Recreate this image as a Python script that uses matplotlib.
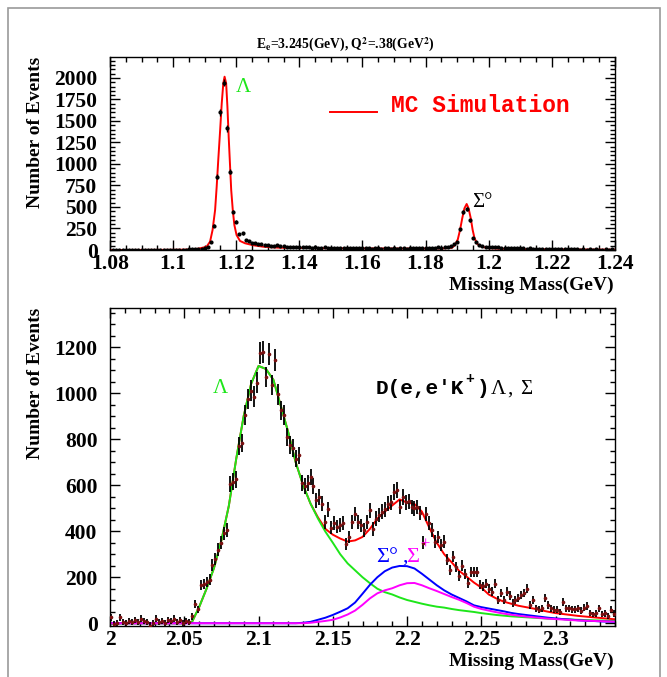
import numpy as np
import matplotlib
matplotlib.use('Agg')
import matplotlib.pyplot as plt
from matplotlib.ticker import MultipleLocator
from matplotlib.patches import Rectangle

plt.rcParams['mathtext.fontset'] = 'stix'

W, H = 667, 677

# ---------------- top panel data (Lambda / Sigma0 from hydrogen) ----------------
top_bin_start = 1.081
top_bin_width = 0.001
top_counts = [0, 5, 0, 3, 0, 0, 5, 0, 0, 2,
              0, 5, 0, 0, 3, 0, 0, 5, 0, 0,
              3, 0, 5, 5, 8, 10, 12, 10, 15, 25,
              40, 97, 283, 852, 1601, 1946, 1415, 911, 446, 329,
              186, 194, 120, 105, 87, 80, 72, 65, 60, 58,
              52, 50, 60, 45, 42, 40, 38, 40, 35, 33,
              35, 30, 32, 28, 30, 28, 25, 30, 25, 28,
              22, 25, 20, 22, 25, 20, 22, 18, 20, 22,
              18, 20, 15, 18, 20, 15, 18, 20, 15, 18,
              16, 20, 18, 15, 20, 22, 18, 20, 25, 22,
              25, 28, 25, 30, 28, 32, 40, 50, 70, 97,
              240, 440, 480, 345, 135, 88, 60, 45, 40, 38,
              35, 30, 32, 28, 25, 22, 25, 20, 22, 18,
              20, 15, 18, 15, 12, 15, 12, 10, 12, 10,
              12, 8, 10, 8, 10, 8, 6, 8, 5, 8,
              5, 6, 5, 8, 4, 5, 8, 5, 6]

top_mc_mass = [1.080, 1.100, 1.105, 1.108, 1.1106, 1.1117, 1.1125, 1.1133, 1.1138,
               1.1143, 1.1149, 1.1154, 1.1159, 1.1163, 1.1168, 1.1172, 1.1176, 1.1180,
               1.1184, 1.1189, 1.1194, 1.1201, 1.1212, 1.1228, 1.1254, 1.1286, 1.1333,
               1.140, 1.150, 1.160, 1.170, 1.180, 1.185, 1.1883, 1.1893, 1.1902, 1.1909,
               1.1916, 1.1923, 1.1930, 1.1936, 1.1943, 1.1949, 1.1955, 1.1964, 1.1978,
               1.1999, 1.203, 1.210, 1.220, 1.230, 1.240]
top_mc_vals = [0, 2, 5, 15, 38, 97, 233, 465, 736,
               1047, 1395, 1705, 1938, 2015, 1938, 1667, 1318, 1008,
               698, 465, 291, 174, 105, 78, 55, 38, 27,
               24, 20, 18, 17, 17, 18, 25, 58, 124, 233,
               369, 485, 535, 485, 369, 233, 136, 70, 38,
               22, 15, 10, 7, 5, 4]

# ---------------- bottom panel data (deuterium) ----------------
bot_bin_start = 2.001
bot_bin_width = 0.002
bot_counts = [25, -5, 0, 25, 5, 0, 10, 5, 15, 5,
              20, 10, 5, -10, 0, 20, 5, 10, 0, 15,
              10, 20, 5, 15, 0, 10, 5, 30, 85, 60,
              165, 170, 180, 190, 255, 280, 320, 350, 390, 405,
              605, 615, 625, 770, 785, 905, 975, 1010, 985, 1045,
              1175, 1178, 1070, 1170, 1035, 1145, 995, 925, 905, 810,
              775, 760, 715, 730, 610, 595, 610, 635, 595, 535,
              550, 520, 440, 495, 415, 435, 420, 428, 435, 345,
              375, 440, 475, 440, 425, 405, 440, 490, 410, 455,
              470, 485, 495, 520, 525, 570, 580, 505, 550, 525,
              530, 505, 500, 505, 480, 350, 475, 435, 405, 355,
              375, 340, 355, 275, 230, 290, 245, 205, 250, 215,
              175, 222, 222, 224, 167, 160, 172, 150, 137, 172,
              100, 130, 102, 137, 120, 88, 102, 110, 123, 130,
              150, 80, 100, 65, 58, 65, 108, 80, 65, 58,
              58, 50, 93, 65, 65, 60, 60, 65, 55, 68,
              75, 45, 38, 43, 65, 40, 43, 32, 58, 42]
bot_errors = [14, 14, 14, 14, 14, 14, 14, 14, 14, 14,
              14, 14, 14, 14, 14, 14, 14, 14, 14, 14,
              14, 14, 14, 14, 14, 14, 14, 15, 18, 17,
              22, 22, 23, 23, 26, 27, 28, 29, 30, 30,
              36, 36, 36, 39, 39, 42, 44, 45, 44, 45,
              48, 48, 45, 48, 45, 48, 45, 43, 42, 40,
              39, 39, 38, 38, 35, 35, 35, 36, 35, 33,
              34, 33, 30, 32, 29, 30, 30, 30, 30, 27,
              28, 30, 31, 30, 30, 29, 30, 32, 29, 31,
              31, 32, 32, 33, 33, 35, 35, 32, 34, 33,
              33, 32, 32, 32, 31, 27, 31, 30, 29, 27,
              28, 26, 27, 24, 22, 25, 23, 22, 23, 22,
              20, 22, 22, 22, 20, 20, 20, 19, 19, 20,
              17, 18, 17, 19, 18, 16, 17, 17, 18, 18,
              19, 16, 17, 15, 15, 15, 17, 16, 15, 15,
              15, 14, 16, 15, 15, 15, 15, 15, 14, 15,
              16, 14, 13, 14, 15, 13, 14, 13, 15, 14]

curve_start = 2.000
curve_step = 0.005
lambda_mc = [0, 0, 0, 0, 0, 0, 0, 0, 0, 0,
             0, 3, 70, 150, 240, 360, 510, 715, 900, 1040,
             1118, 1105, 1058, 945, 830, 700, 600, 520, 455, 398,
             350, 300, 260, 230, 200, 174, 150, 135, 125, 112,
             101, 93, 85, 78, 72, 68, 62, 57, 53, 49,
             44, 40, 36, 33, 30, 28, 26, 24, 22, 20,
             19, 18, 16, 15, 14, 13, 12, 11, 10]
sigma0_mc = [0, 0, 0, 0, 0, 0, 0, 0, 0, 0,
             0, 0, 0, 0, 0, 0, 0, 0, 0, 0,
             0, 0, 0, 0, 0, 0, 2, 6, 15, 24,
             36, 50, 65, 90, 128, 167, 200, 226, 242, 249,
             248, 238, 215, 190, 165, 143, 125, 110, 95, 78,
             70, 64, 58, 52, 45, 40, 36, 32, 28, 24,
             21, 18, 16, 13, 11, 10, 8, 7, 6]
sigmam_mc = [0, 0, 0, 0, 0, 0, 0, 0, 0, 0,
             0, 0, 0, 0, 0, 0, 0, 0, 0, 0,
             0, 0, 0, 0, 0, 0, 0, 2, 6, 10,
             15, 25, 38, 55, 80, 108, 130, 143, 152, 165,
             174, 175, 165, 152, 140, 127, 114, 102, 88, 72,
             62, 55, 48, 42, 37, 33, 29, 26, 23, 20,
             18, 16, 14, 12, 11, 10, 9, 8, 7]
total_mc = [0, 0, 0, 0, 0, 0, 0, 0, 0, 0,
            0, 3, 70, 150, 240, 360, 510, 715, 900, 1040,
            1118, 1105, 1058, 945, 830, 700, 600, 520, 460, 410,
            385, 368, 355, 360, 375, 410, 455, 485, 512, 538,
            525, 518, 485, 415, 350, 300, 265, 228, 203, 177,
            155, 125, 108, 94, 85, 76, 70, 64, 57, 50,
            44, 40, 36, 32, 29, 26, 23, 20, 17]

# ---------------- figure ----------------
fig = plt.figure(figsize=(W / 100, H / 100), dpi=100)

def fx(px):
    return px / W

def fy(py):
    return 1 - py / H

SERIF = ['Liberation Serif', 'DejaVu Serif']
MONO = ['Liberation Mono', 'DejaVu Sans Mono']
GREEN = '#1ee61a'

fig.add_artist(Rectangle((fx(8), -0.02), fx(652), 1 - 8 / H + 0.02, fill=False,
                         ec='#9a9a9a', lw=1.2, transform=fig.transFigure))

ax1 = fig.add_axes([fx(110), fy(250), fx(505), 193 / H])
ax2 = fig.add_axes([fx(110), fy(626), fx(505), 318 / H])

for ax in (ax1, ax2):
    ax.tick_params(which='both', direction='in', top=True, right=True, width=1,
                   labelsize=15.5)
    ax.tick_params(which='major', length=7)
    ax.tick_params(which='minor', length=3.5)
    ax.tick_params(axis='y', pad=9)
    ax.tick_params(axis='x', pad=3)
    for s in ax.spines.values():
        s.set_linewidth(1)

# top panel
top_counts_a = np.array(top_counts, dtype=float)
top_mass = top_bin_start + top_bin_width * np.arange(len(top_counts_a))
top_err = np.sqrt(np.clip(top_counts_a, 1, None))
ax1.plot(top_mc_mass, top_mc_vals, color='red', lw=1.4, zorder=2)
ax1.errorbar(top_mass, top_counts_a, yerr=top_err, xerr=0.0003, fmt='o', ms=2,
             color='black', ecolor='black', elinewidth=1, capsize=0, zorder=3)
ax1.set_xlim(1.08, 1.24)
ax1.set_ylim(0, 2244)
ax1.xaxis.set_minor_locator(MultipleLocator(0.005))
ax1.yaxis.set_major_locator(MultipleLocator(250))
ax1.yaxis.set_minor_locator(MultipleLocator(50))
ax1.set_xticks([1.08, 1.1, 1.12, 1.14, 1.16, 1.18, 1.2, 1.22, 1.24])
ax1.set_xticklabels(['1.08', '1.1', '1.12', '1.14', '1.16', '1.18', '1.2', '1.22', '1.24'])

# bottom panel
bot_counts_a = np.array(bot_counts, dtype=float)
bot_mass = bot_bin_start + bot_bin_width * np.arange(len(bot_counts_a))
curve_mass = curve_start + curve_step * np.arange(len(lambda_mc))
ax2.plot(curve_mass, total_mc, color='red', lw=1.4, zorder=2)
ax2.plot(curve_mass, lambda_mc, color=GREEN, lw=1.4, zorder=2.1)
ax2.plot(curve_mass, sigma0_mc, color='blue', lw=1.4, zorder=2.2)
ax2.plot(curve_mass, sigmam_mc, color='magenta', lw=1.4, zorder=2.3)
ax2.errorbar(bot_mass, bot_counts_a, yerr=bot_errors, xerr=0.0006, fmt='o', ms=1.6,
             mfc='#7a1010', mec='#7a1010', ecolor='black', elinewidth=1.3,
             capsize=0, zorder=3)
ax2.set_xlim(2.0, 2.34)
ax2.set_ylim(-12, 1370)
ax2.xaxis.set_minor_locator(MultipleLocator(0.01))
ax2.yaxis.set_major_locator(MultipleLocator(200))
ax2.yaxis.set_minor_locator(MultipleLocator(50))
ax2.set_xticks([2.0, 2.05, 2.1, 2.15, 2.2, 2.25, 2.3])
ax2.set_xticklabels(['2', '2.05', '2.1', '2.15', '2.2', '2.25', '2.3'])

for ax in (ax1, ax2):
    for lab in ax.get_xticklabels() + ax.get_yticklabels():
        lab.set_fontfamily(SERIF)
        lab.set_fontweight('bold')

# axis titles
for ytop in (57, 308):
    fig.text(fx(36), fy(ytop), 'Number of Events', rotation=90, ha='center', va='top',
             fontsize=14, fontweight='bold', family=SERIF)
for yc in (285, 661):
    fig.text(fx(614), fy(yc), 'Missing Mass(GeV)', ha='right', va='center',
             fontsize=14, fontweight='bold', family=SERIF)

# title
fig.text(fx(345), fy(45), r'E$_\mathbf{e}$=3.245(GeV), Q$^\mathbf{2}$=.38(GeV$^\mathbf{2}$)',
         ha='center', va='center', fontsize=9.8, fontweight='bold', family=SERIF)

# top annotations
fig.text(fx(236), fy(92), 'Λ', color=GREEN, fontsize=15, family=SERIF, va='baseline')
fig.text(fx(472), fy(207), 'Σ°', color='black', fontsize=15, family=SERIF, va='baseline')
fig.add_artist(plt.Line2D([fx(330), fx(377)], [fy(112), fy(112)], color='red', lw=1.4,
                          transform=fig.transFigure))
fig.text(fx(391), fy(112), 'MC Simulation', color='red', fontsize=16.5, fontweight='bold',
         family=MONO, va='baseline')

# bottom annotations
fig.text(fx(213), fy(393), 'Λ', color=GREEN, fontsize=15, family=SERIF, va='baseline')
fig.text(fx(376), fy(394), 'D(e,e′K', color='black', fontsize=15.2, fontweight='bold',
         family=MONO, va='baseline')
fig.text(fx(465), fy(383), '+', color='black', fontsize=10.5, fontweight='bold',
         family=MONO, va='baseline')
fig.text(fx(477), fy(394), ')', color='black', fontsize=15.2, fontweight='bold',
         family=MONO, va='baseline')
fig.text(fx(491), fy(394), 'Λ', color='black', fontsize=15, family=SERIF, va='baseline')
fig.text(fx(507), fy(394), ',', color='black', fontsize=15, family=SERIF, va='baseline')
fig.text(fx(520), fy(394), 'Σ', color='black', fontsize=15, family=SERIF, va='baseline')

fig.text(fx(376), fy(562), 'Σ°', color='blue', fontsize=16, family=SERIF, va='baseline')
fig.text(fx(402), fy(562), ',', color='blue', fontsize=16, family=SERIF, va='baseline')
fig.text(fx(406), fy(562), 'Σ', color='magenta', fontsize=16, family=SERIF, va='baseline')
fig.text(fx(420), fy(549), '+', color='magenta', fontsize=12, family=SERIF, va='baseline')

fig.savefig('out.png', dpi=100)
